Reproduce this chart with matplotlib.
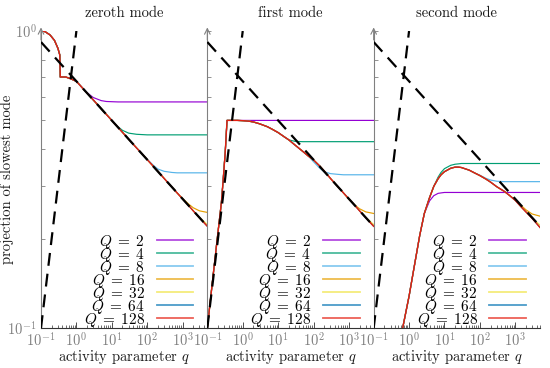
import matplotlib
matplotlib.use("Agg")
import matplotlib.pyplot as plt
from matplotlib.ticker import FixedLocator, LogLocator, NullFormatter, LogFormatterSciNotation
from matplotlib.lines import Line2D

plt.rcParams["font.family"] = "serif"
plt.rcParams["font.serif"] = ["cmr10", "DejaVu Serif"]
plt.rcParams["mathtext.fontset"] = "cm"
plt.rcParams["axes.unicode_minus"] = False
plt.rcParams["axes.formatter.use_mathtext"] = True

# ---------------- data ----------------
Q_values = [2, 4, 8, 16, 32, 64, 128]
Q_colors = ["#9400D3", "#009E73", "#56B4E9", "#E69F00", "#F0E442", "#0072B2", "#E51E10"]
panel_titles = ["zeroth mode", "first mode", "second mode"]

# guide lines (dashed)
guide_rise_q = [0.1, 1.0]
guide_rise_y = [0.1, 1.0]
guide_fall_q = [0.1, 5000]
guide_fall_y = [0.918, 0.220]

# zeroth mode
q_zeroth = [0.1, 0.13, 0.18, 0.24, 0.3, 0.34, 0.35, 0.5, 0.7, 1, 1.5, 2, 3, 5, 7, 10, 15, 20,
            30, 50, 70, 100, 150, 200, 300, 500, 700, 1000, 1500, 2000, 3000, 5000]
zeroth_Q128 = [1.0, 0.995, 0.97, 0.93, 0.875, 0.83, 0.70, 0.70, 0.69, 0.677, 0.642, 0.618, 0.586,
               0.548, 0.524, 0.500, 0.474, 0.456, 0.432, 0.404, 0.387, 0.369, 0.350, 0.337, 0.319,
               0.298, 0.285, 0.272, 0.258, 0.248, 0.235, 0.220]
zeroth_Q64 = zeroth_Q128[:]
zeroth_Q32 = zeroth_Q128[:30] + [0.236, 0.223]
zeroth_Q16 = zeroth_Q128[:27] + [0.273, 0.261, 0.254, 0.248, 0.245]
zeroth_Q8 = zeroth_Q128[:21] + [0.370, 0.353, 0.343, 0.337, 0.334, 0.333, 0.333, 0.333, 0.333, 0.333, 0.333]
zeroth_Q4 = zeroth_Q128[:16] + [0.476, 0.463, 0.453, 0.449, 0.448, 0.447, 0.447, 0.447, 0.447, 0.447,
                                0.447, 0.447, 0.447, 0.447, 0.447, 0.447]
zeroth_Q2 = zeroth_Q128[:11] + [0.620, 0.597, 0.583, 0.579, 0.578, 0.577, 0.577, 0.577, 0.577, 0.577,
                                0.577, 0.577, 0.577, 0.577, 0.577, 0.577, 0.577, 0.577, 0.577, 0.577, 0.577]

# first mode
q_first = [0.1, 0.15, 0.2, 0.25, 0.28, 0.32, 0.36, 0.5, 0.7, 1, 1.5, 2, 3, 5, 7, 10, 15, 20,
           30, 50, 70, 100, 150, 200, 300, 500, 700, 1000, 1500, 2000, 3000, 5000]
first_Q128 = [0.1, 0.155, 0.21, 0.265, 0.315, 0.39, 0.5, 0.5, 0.5, 0.499, 0.497, 0.494, 0.487, 0.476,
              0.466, 0.455, 0.440, 0.430, 0.413, 0.393, 0.380, 0.368, 0.351, 0.338, 0.319, 0.298,
              0.285, 0.272, 0.258, 0.248, 0.235, 0.220]
first_Q64 = first_Q128[:]
first_Q32 = first_Q128[:30] + [0.236, 0.223]
first_Q16 = first_Q128[:27] + [0.271, 0.259, 0.252, 0.246, 0.243]
first_Q8 = first_Q128[:21] + [0.363, 0.345, 0.336, 0.331, 0.329, 0.328, 0.328, 0.328, 0.328, 0.328, 0.328]
first_Q4 = first_Q128[:17] + [0.430, 0.425, 0.424, 0.424, 0.424, 0.424, 0.424, 0.424, 0.424, 0.424,
                              0.424, 0.424, 0.424, 0.424, 0.424]
first_Q2 = first_Q128[:7] + [0.5] * 25

# second mode
q_second = [0.66, 1, 1.4, 2, 2.7, 3.8, 5, 6.6, 8, 10, 15, 20, 25, 30, 50, 70, 100, 150, 200, 300,
            500, 700, 1000, 1500, 2000, 3000, 5000]
second_Q128 = [0.1, 0.128, 0.161, 0.205, 0.243, 0.275, 0.300, 0.318, 0.328, 0.336, 0.345, 0.348,
               0.348, 0.347, 0.340, 0.333, 0.326, 0.317, 0.310, 0.299, 0.288, 0.279, 0.269, 0.255,
               0.246, 0.234, 0.218]
second_Q64 = second_Q128[:]
second_Q32 = second_Q128[:25] + [0.235, 0.222]
second_Q16 = second_Q128[:22] + [0.270, 0.258, 0.250, 0.242, 0.238]
second_Q8 = second_Q128[:16] + [0.327, 0.319, 0.315, 0.312, 0.311, 0.311, 0.311, 0.311, 0.311, 0.311, 0.311]
second_Q4 = second_Q128[:7] + [0.322, 0.334, 0.344, 0.353, 0.356, 0.357, 0.358, 0.358, 0.358, 0.358,
                               0.358, 0.358, 0.358, 0.358, 0.358, 0.358, 0.358, 0.358, 0.358, 0.358]
second_Q2 = second_Q128[:5] + [0.268, 0.279, 0.284, 0.285, 0.286, 0.286, 0.286, 0.286, 0.286, 0.286,
                               0.286, 0.286, 0.286, 0.286, 0.286, 0.286, 0.286, 0.286, 0.286, 0.286,
                               0.286, 0.286]

panels = [
    (q_zeroth, [zeroth_Q2, zeroth_Q4, zeroth_Q8, zeroth_Q16, zeroth_Q32, zeroth_Q64, zeroth_Q128]),
    (q_first, [first_Q2, first_Q4, first_Q8, first_Q16, first_Q32, first_Q64, first_Q128]),
    (q_second, [second_Q2, second_Q4, second_Q8, second_Q16, second_Q32, second_Q64, second_Q128]),
]

# ---------------- figure ----------------
fig, axes = plt.subplots(1, 3, figsize=(5.5, 3.68), dpi=100, sharey=True)
fig.subplots_adjust(left=41 / 550, right=540 / 550, bottom=40 / 368, top=1 - 31 / 368, wspace=0)

gray = "#808080"
dark = "#333333"
txt = "#1a1a1a"

for i, ax in enumerate(axes):
    qs, curves = panels[i]
    for Q, col, ys in zip(Q_values, Q_colors, curves):
        ax.plot(qs, ys, color=col, lw=1.0 if Q == 128 else 0.85, zorder=2,
                solid_joinstyle="round")
    ax.plot(guide_rise_q, guide_rise_y, color="black", lw=1.6, dashes=(5.8, 3.6), zorder=3)
    ax.plot(guide_fall_q, guide_fall_y, color="black", lw=1.6, dashes=(5.8, 3.6), zorder=3)

    ax.set_xscale("log")
    ax.set_yscale("log")
    ax.set_xlim(0.1, 5000)
    ax.set_ylim(0.1, 1.0)

    for s in ["top", "right"]:
        ax.spines[s].set_visible(False)
    ax.spines["left"].set_color(gray)
    ax.spines["left"].set_linewidth(0.8)
    ax.spines["bottom"].set_color(dark)
    ax.spines["bottom"].set_linewidth(0.8)
    ax.annotate("", xy=(0, 1.012), xytext=(0, 0.97), xycoords="axes fraction",
                arrowprops=dict(arrowstyle="->", color=gray, lw=0.8, shrinkA=0, shrinkB=0),
                annotation_clip=False)

    ax.xaxis.set_major_locator(FixedLocator([0.1, 1, 10, 100, 1000]))
    ax.xaxis.set_major_formatter(LogFormatterSciNotation())
    ax.xaxis.set_minor_locator(LogLocator(base=10, subs=range(2, 10), numticks=20))
    ax.xaxis.set_minor_formatter(NullFormatter())
    ax.tick_params(axis="x", which="major", direction="in", length=4, width=0.6,
                   color=dark, labelcolor=gray, labelsize=10.5, pad=3)
    ax.tick_params(axis="x", which="minor", direction="in", length=2.5, width=0.5, color=dark)

    ax.yaxis.set_major_locator(FixedLocator([0.1, 1.0]))
    ax.yaxis.set_minor_locator(FixedLocator([0.2, 0.3, 0.4, 0.5, 0.6, 0.7, 0.8]))
    ax.yaxis.set_minor_formatter(NullFormatter())
    ax.tick_params(axis="y", which="major", direction="in", length=3, width=0.6,
                   color=gray, labelcolor=gray, labelsize=10.5, pad=3)
    ax.tick_params(axis="y", which="minor", direction="in", length=3, width=0.6, color=gray)
    if i > 0:
        ax.tick_params(axis="y", which="both", labelleft=False)

    ax.set_title(panel_titles[i], fontsize=10.5, pad=10, color=txt)
    ax.set_xlabel(r"activity parameter $q$", fontsize=10.5, color=txt)
    ax.xaxis.set_label_coords(0.5, -0.066)

    handles = [Line2D([], [], color=c, lw=1.3, alpha=0.7) for c in Q_colors]
    labels = [r"$Q\;=\;%d$" % Q for Q in Q_values]
    ax.legend(handles, labels, loc="lower right", bbox_to_anchor=(0.915, -0.002),
              frameon=False, markerfirst=False, handlelength=2.4, handletextpad=0.75,
              labelspacing=-0.33, borderpad=0, borderaxespad=0, fontsize=11)

axes[0].set_ylabel("projection of slowest mode", fontsize=10.5, color=txt)
axes[0].yaxis.set_label_coords(-0.162, 0.5)

fig.savefig("out.png", dpi=100)
